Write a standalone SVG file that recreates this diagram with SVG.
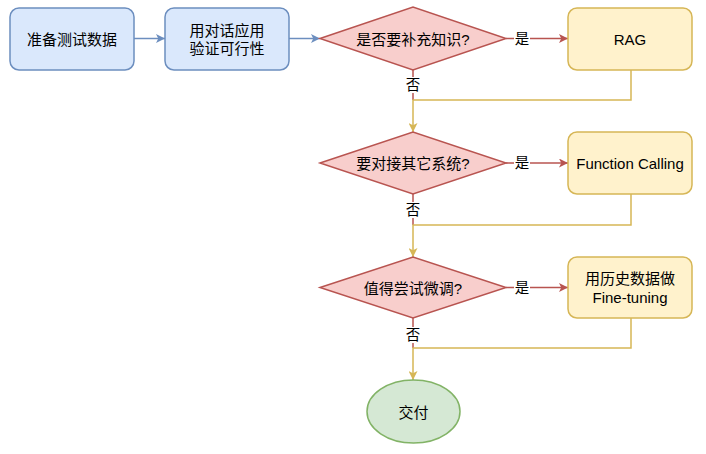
<svg xmlns="http://www.w3.org/2000/svg" width="706" height="454" viewBox="0 0 706 454">
<style>
.t{font-family:"Liberation Sans","Noto Sans CJK SC",sans-serif;font-size:15px;fill:#000;text-anchor:middle;dominant-baseline:central}
.l{font-family:"Liberation Sans","Noto Sans CJK SC",sans-serif;font-size:14.5px;fill:#000;text-anchor:middle;dominant-baseline:central}
.blue{fill:#dae8fc;stroke:#6c8ebf;stroke-width:1.5}
.red{fill:#f8cecc;stroke:#b85450;stroke-width:1.5}
.yel{fill:#fff2cc;stroke:#d6b656;stroke-width:1.5}
.grn{fill:#d5e8d4;stroke:#82b366;stroke-width:1.5}
.eb{fill:none;stroke:#6c8ebf;stroke-width:1.5}
.er{fill:none;stroke:#b85450;stroke-width:1.5}
.ey{fill:none;stroke:#d6b656;stroke-width:1.5}
</style>
<defs>
<marker id="ab" viewBox="0 0 10 10" refX="10" refY="5" markerWidth="9" markerHeight="9" markerUnits="userSpaceOnUse" orient="auto"><path d="M0,0 L10,5 L0,10 L2.5,5 Z" fill="#6c8ebf"/></marker>
<marker id="ar" viewBox="0 0 10 10" refX="10" refY="5" markerWidth="9" markerHeight="9" markerUnits="userSpaceOnUse" orient="auto"><path d="M0,0 L10,5 L0,10 L2.5,5 Z" fill="#b85450"/></marker>
<marker id="ay" viewBox="0 0 10 10" refX="10" refY="5" markerWidth="9" markerHeight="9" markerUnits="userSpaceOnUse" orient="auto"><path d="M0,0 L10,5 L0,10 L2.5,5 Z" fill="#d6b656"/></marker>
</defs>
<rect width="706" height="454" fill="#fff"/>
<g id="connectors">
<path class="eb" d="M134,38.5 H165" marker-end="url(#ab)"/>
<path class="eb" d="M289,38.5 H320" marker-end="url(#ab)"/>
<path class="er" d="M506,38.5 H568" marker-end="url(#ar)"/>
<path class="er" d="M413,70 V100"/>
<path class="ey" d="M631,70 V100 H413 V132" marker-end="url(#ay)"/>
<path class="er" d="M506,163 H568" marker-end="url(#ar)"/>
<path class="er" d="M413,194 V225"/>
<path class="ey" d="M631,194 V225 H413 V257" marker-end="url(#ay)"/>
<path class="er" d="M506,287.5 H568" marker-end="url(#ar)"/>
<path class="er" d="M413,318 V348"/>
<path class="ey" d="M631,318 V348 H413 V380" marker-end="url(#ay)"/>
<rect x="514" y="30" width="16" height="17" fill="#fff"/><text class="l" x="522" y="38.5">是</text>
<rect x="405" y="77" width="16" height="16" fill="#fff"/><text class="l" x="413" y="85">否</text>
<rect x="514" y="155" width="16" height="17" fill="#fff"/><text class="l" x="522" y="163">是</text>
<rect x="405" y="202" width="16" height="16" fill="#fff"/><text class="l" x="413" y="210">否</text>
<rect x="514" y="279" width="16" height="17" fill="#fff"/><text class="l" x="522" y="287.5">是</text>
<rect x="405" y="327" width="16" height="16" fill="#fff"/><text class="l" x="413" y="335">否</text>
</g>
<g id="prepare"><rect class="blue" x="10" y="8" width="124" height="62" rx="9"/><text class="t" x="72" y="39">准备测试数据</text></g>
<g id="verify"><rect class="blue" x="165" y="8" width="124" height="62" rx="9"/><text class="t" x="227" y="30">用对话应用</text><text class="t" x="227" y="48">验证可行性</text></g>
<g id="q1"><polygon class="red" points="320,38.5 413,7 506,38.5 413,70"/><text class="t" x="413" y="39">是否要补充知识?</text></g>
<g id="rag"><rect class="yel" x="568" y="8" width="124" height="62" rx="9"/><text class="t" x="630" y="39">RAG</text></g>
<g id="q2"><polygon class="red" points="320,163 413,132 506,163 413,194"/><text class="t" x="413" y="163">要对接其它系统?</text></g>
<g id="fc"><rect class="yel" x="568" y="132" width="124" height="62" rx="9"/><text class="t" x="630" y="163">Function Calling</text></g>
<g id="q3"><polygon class="red" points="320,287.5 413,257 506,287.5 413,318"/><text class="t" x="413" y="288">值得尝试微调?</text></g>
<g id="ft"><rect class="yel" x="568" y="257" width="124" height="61" rx="9"/><text class="t" x="630" y="278">用历史数据做</text><text class="t" x="630" y="297">Fine-tuning</text></g>
<g id="deliver"><ellipse class="grn" cx="413.5" cy="411.5" rx="46.5" ry="31.5"/><text class="t" x="413.5" y="412">交付</text></g>
</svg>
